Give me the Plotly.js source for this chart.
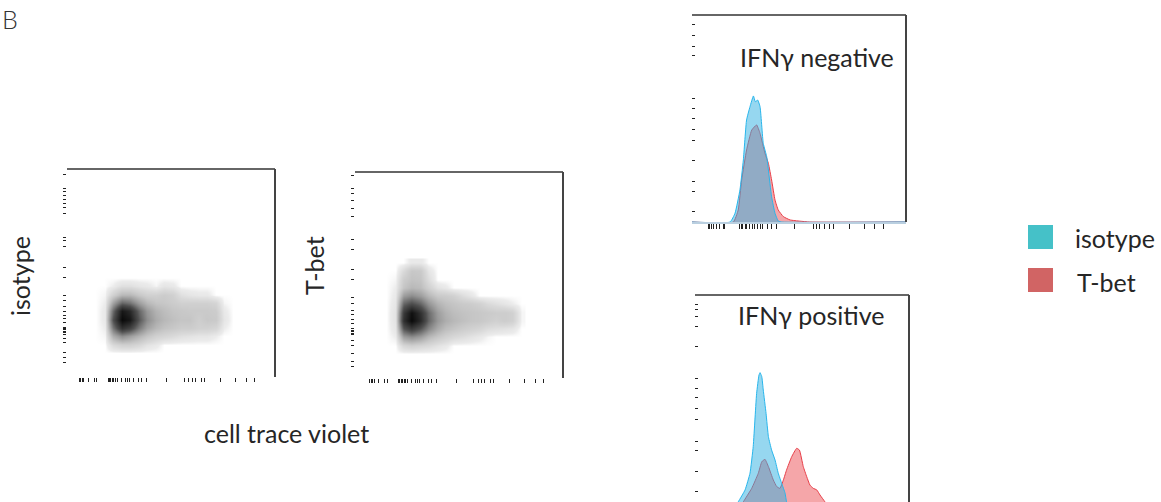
<!DOCTYPE html>
<html>
<head>
<meta charset="utf-8">
<script src="https://cdn.plot.ly/plotly-3.0.1.min.js"></script>
<style>
html,body{margin:0;padding:0;background:#fff;}
#chart{width:1161px;height:502px;}
</style>
</head>
<body>
<div id="chart"></div>
<script>
// ---------- DATA ----------
// density grid (arbitrary units, 0-100 scale on both axes)
const densX = [16,20,24,28,32,36,40,44,48,52,56,60,64,68,72,76,80];
const densY = [12,16,20,24,28,32,36,40,44,48,52,56];

const isotypeZ = [
  [0,0,0,0,0,0,0,0,0,0,0,0,0,0,0,0,0],
  [0,0,.08,.12,.12,.09,.05,.03,0,0,0,0,0,0,0,0,0],
  [0,.01,.26,.38,.32,.24,.17,.12,.10,.08,.06,.05,.04,.04,.02,0,0],
  [0,.02,.46,.78,.68,.45,.30,.22,.18,.16,.14,.14,.12,.12,.10,.02,0],
  [0,.03,.60,1.0,.92,.58,.38,.27,.22,.19,.17,.17,.13,.16,.15,.04,0],
  [0,.03,.50,.92,.82,.52,.34,.24,.20,.17,.16,.15,.15,.15,.14,.03,0],
  [0,.02,.30,.52,.47,.32,.22,.17,.16,.14,.12,.12,.12,.12,.10,.01,0],
  [0,.01,.12,.22,.22,.16,.12,.12,.14,.12,.06,.04,.03,.03,0,0,0],
  [0,0,.02,.06,.06,.04,.03,.01,.04,.03,0,0,0,0,0,0,0],
  [0,0,0,0,0,0,0,0,0,0,0,0,0,0,0,0,0],
  [0,0,0,0,0,0,0,0,0,0,0,0,0,0,0,0,0],
  [0,0,0,0,0,0,0,0,0,0,0,0,0,0,0,0,0]
];
const tbetZ = [
  [0,0,0,0,0,0,0,0,0,0,0,0,0,0,0,0,0],
  [0,0,.09,.12,.10,.08,.05,.03,0,0,0,0,0,0,0,0,0],
  [0,.02,.32,.38,.32,.22,.16,.12,.09,.07,.05,.03,.01,0,0,0,0],
  [0,.04,.58,.72,.58,.40,.27,.20,.17,.14,.12,.10,.07,.06,.05,.04,0],
  [0,.05,.78,1.0,.82,.52,.34,.26,.22,.19,.17,.16,.14,.12,.14,.12,.01],
  [0,.05,.72,.96,.77,.50,.32,.24,.20,.18,.17,.16,.15,.14,.14,.12,.01],
  [0,.04,.52,.62,.52,.35,.24,.19,.17,.15,.14,.12,.08,.06,.04,.02,0],
  [0,.03,.32,.38,.32,.22,.15,.14,.12,.07,.04,0,0,0,0,0,0],
  [0,.02,.17,.22,.20,.12,.05,.03,0,0,0,0,0,0,0,0,0],
  [0,.01,.14,.18,.17,.07,0,0,0,0,0,0,0,0,0,0,0],
  [0,0,.08,.16,.15,.04,0,0,0,0,0,0,0,0,0,0,0],
  [0,0,0,.03,.03,0,0,0,0,0,0,0,0,0,0,0,0]
];

// histograms: IFNγ negative
const negIsoX  = [0,17.8,20.1,22.4,24.0,25.5,27.1,28.7,29.6,30.7,31.8,33.3,34.9,35.7,37.2,38.8,40.3,41.9,100];
const negIsoY  = [0,0,4.2,15.5,30,49.3,55.7,60.9,58.1,58.9,55.7,38,31.6,25.1,12.2,4.2,0.5,0,0];
const negTbetX = [0,19.3,21.6,23.2,25.5,27.9,30.2,31.8,34.1,35.7,37.2,38.8,40.3,42.7,45.8,50.5,55.1,100];
const negTbetY = [0,0,5.8,20.3,34.8,44.4,46.9,42.8,33.2,28.3,20.3,10.6,5.8,2.6,1.0,0.4,0,0];
// histograms: IFNγ positive
const posIsoX  = [0,14,17,20.2,23.4,25.7,27.2,28.0,28.8,29.9,30.4,31.2,31.9,33.2,34.3,35.8,37.4,38.9,40.5,42.1,42.8,45,47,100];
const posIsoY  = [0,0,2,6.0,11.4,19.0,31.1,43.2,55.3,63.6,64.7,62.9,56.8,46.2,35.6,29.5,25.0,19.0,14.4,9.9,6.0,2,0,0];
const posTbetX = [0,19,22.6,26.5,29.6,31.2,32.7,34.3,36.6,38.2,39.7,41.3,42.8,45.2,47.5,48.8,50.6,52.2,53.7,55.3,56.9,58.4,60.7,63,66,100];
const posTbetY = [0,0,6,12.1,19,24.2,25.3,22,15.9,12.9,12.1,15.9,20.5,26.5,30.3,29.5,22,17.4,13.6,12.1,11.4,9.1,6,2.5,0,0];

// tick mark positions (no labels)
const densXTicks = [8.0,8.8,9.5,10.3,12.3,15.2,16.3,21.6,22.3,23.0,23.7,24.4,25.1,25.9,28.0,29.6,30.8,31.9,33.5,35.8,37.4,39.8,49.2,57.4,59.6,61.2,62.8,65.3,67.1,74.6,81.5,86.7,90.6];
const iso2dYTicks = [97.6,90.9,89.0,87.1,85.2,83.7,81.8,78.9,67.0,66.0,62.7,53.1,48.3,39.7,37.3,34.0,31.6,30.1,28.7,26.8,24.4,23.9,23.4,23.0,22.5,22.0,20.6,19.1,17.2,12.4,9.6,7.2];
const tbet2dYTicks = [98.1,92.1,89.7,86.4,82.4,78.3,67.0,62.5,52.8,47.6,39.2,36.3,33.0,30.6,28.5,26.6,24.1,23.3,22.5,21.7,20.9,18.4,16.0,12.0,7.9,5.5];
const histXTicks = [7.6,8.4,9.2,10.0,11.5,12.8,14.6,15.4,22.1,22.9,23.8,24.8,25.6,27.1,28.4,29.4,30.5,31.8,33.0,35.2,37.2,39.6,48.1,56.7,58.3,59.8,62.1,64.2,66.0,73.8,80.8,85.5,89.4];
const negYTicks = [95.2,90.3,84.7,80.2,59.8,54.6,50.1,44.8,39.6,29.6,19.8,14.6,5.0,0];
const posYTicks = [95.5,93.2,90.1,85.9,76.5,62.1,57.6,53.5,48.5,43.2,33.6,29.5,19.7,10.6];

const legendLabels = ['isotype','T-bet'];
const legendColors = ['#45c1c8','#d16464'];

// ---------- LAYOUT HELPERS ----------
const W = 1161, H = 502;
const xd = (a,b) => [a/W, b/W];
const yd = (top,bottom) => [1-bottom/H, 1-top/H];
const FONT = 'Lato, "Open Sans", sans-serif';
const TXT = '#262626';

const grayScale = [[0,'rgb(255,255,255)'],[0.02,'rgb(236,236,236)'],[0.08,'rgb(218,218,218)'],[0.16,'rgb(200,200,200)'],[0.35,'rgb(150,150,150)'],[0.6,'rgb(80,80,80)'],[1,'rgb(10,10,10)']];

function tickAxis(vals, dir, len, extra){
  return Object.assign({
    showgrid:false, zeroline:false, showticklabels:false, showline:false,
    tickmode:'array', tickvals:vals, ticks:dir, ticklen:len, tickwidth:1, tickcolor:'#222',
    fixedrange:true
  }, extra||{});
}

const data = [
  {type:'heatmap', x:densX, y:densY, z:isotypeZ, xaxis:'x', yaxis:'y', zsmooth:'best',
   colorscale:grayScale, zmin:0, zmax:1, showscale:false, hoverinfo:'skip'},
  {type:'heatmap', x:densX, y:densY, z:tbetZ, xaxis:'x2', yaxis:'y2', zsmooth:'best',
   colorscale:grayScale, zmin:0, zmax:1, showscale:false, hoverinfo:'skip'},
  {type:'scatter', mode:'lines', x:negTbetX, y:negTbetY, xaxis:'x3', yaxis:'y3', fill:'tozeroy',
   fillcolor:'rgba(236,78,84,0.5)', line:{color:'rgb(232,62,72)', width:1, shape:'spline', smoothing:0.4}, hoverinfo:'skip'},
  {type:'scatter', mode:'lines', x:negIsoX, y:negIsoY, xaxis:'x3', yaxis:'y3', fill:'tozeroy',
   fillcolor:'rgba(46,176,226,0.5)', line:{color:'rgb(40,182,236)', width:1, shape:'spline', smoothing:0.4}, hoverinfo:'skip'},
  {type:'scatter', mode:'lines', x:posTbetX, y:posTbetY, xaxis:'x4', yaxis:'y4', fill:'tozeroy',
   fillcolor:'rgba(236,78,84,0.5)', line:{color:'rgb(232,62,72)', width:1, shape:'spline', smoothing:0.4}, hoverinfo:'skip'},
  {type:'scatter', mode:'lines', x:posIsoX, y:posIsoY, xaxis:'x4', yaxis:'y4', fill:'tozeroy',
   fillcolor:'rgba(46,176,226,0.5)', line:{color:'rgb(40,182,236)', width:1, shape:'spline', smoothing:0.4}, hoverinfo:'skip'}
];

function frame(xr, yr){
  return [
    {type:'line', xref:xr+' domain', yref:yr+' domain', x0:0, x1:1, y0:1, y1:1, line:{color:'#333', width:1.5}},
    {type:'line', xref:xr+' domain', yref:yr+' domain', x0:1, x1:1, y0:0, y1:1, line:{color:'#444', width:2}}
  ];
}

const shapes = [].concat(frame('x','y'), frame('x2','y2'), frame('x3','y3'), frame('x4','y4'));
// legend swatches
const sw = [[225,249],[268,292]];
legendColors.forEach((c,i)=>{
  shapes.push({type:'rect', xref:'paper', yref:'paper', x0:1028/W, x1:1053/W,
    y0:1-sw[i][1]/H, y1:1-sw[i][0]/H, fillcolor:c, line:{width:0}});
});

function ann(text, px, py, size, opts){
  return Object.assign({text:text, xref:'paper', yref:'paper', x:px/W, y:1-py/H,
    xanchor:'center', yanchor:'middle', showarrow:false,
    font:{family:FONT, size:size, color:TXT}}, opts||{});
}

const annotations = [
  ann('B', 10, 19, 25, {font:{family:FONT, size:25, color:'#333', weight:300}}),
  ann('isotype', 20, 276, 25, {textangle:-90}),
  ann('T-bet', 314, 265, 25, {textangle:-90}),
  ann('cell trace violet', 286, 433, 25),
  ann('IFNγ negative', 817, 57, 25),
  ann('IFNγ positive', 811, 315, 25),
  ann(legendLabels[0], 1073, 238, 25, {xanchor:'left'}),
  ann(legendLabels[1], 1075, 282, 25, {xanchor:'left'})
];

const layout = {
  width:W, height:H, margin:{l:0,r:0,t:0,b:0}, paper_bgcolor:'#fff', plot_bgcolor:'rgba(0,0,0,0)',
  showlegend:false, font:{family:FONT, color:TXT},
  xaxis:  tickAxis(densXTicks,'outside',4,{domain:xd(67,275), range:[2.35,100], anchor:'y'}),
  yaxis:  tickAxis(iso2dYTicks,'outside',3,{domain:yd(169,377), range:[0.5,100], anchor:'x'}),
  xaxis2: tickAxis(densXTicks,'outside',4,{domain:xd(355,563), range:[0.95,100], anchor:'y2'}),
  yaxis2: tickAxis(tbet2dYTicks,'outside',3,{domain:yd(172,378), range:[0,100], anchor:'x2'}),
  xaxis3: tickAxis(histXTicks,'outside',5,{domain:xd(692,906), range:[0,100], anchor:'y3',
            showline:true, linecolor:'#b9cfe0', linewidth:1.5}),
  yaxis3: tickAxis(negYTicks,'inside',3,{domain:yd(15,222), range:[0,100], anchor:'x3'}),
  xaxis4: tickAxis([],'',0,{domain:xd(695,909), range:[0,100], anchor:'y4'}),
  yaxis4: tickAxis(posYTicks,'inside',3,{domain:yd(295,502), range:[5.9,100], anchor:'x4'}),
  shapes:shapes,
  annotations:annotations
};

Plotly.newPlot('chart', data, layout, {displayModeBar:false, staticPlot:true});
</script>
</body>
</html>
